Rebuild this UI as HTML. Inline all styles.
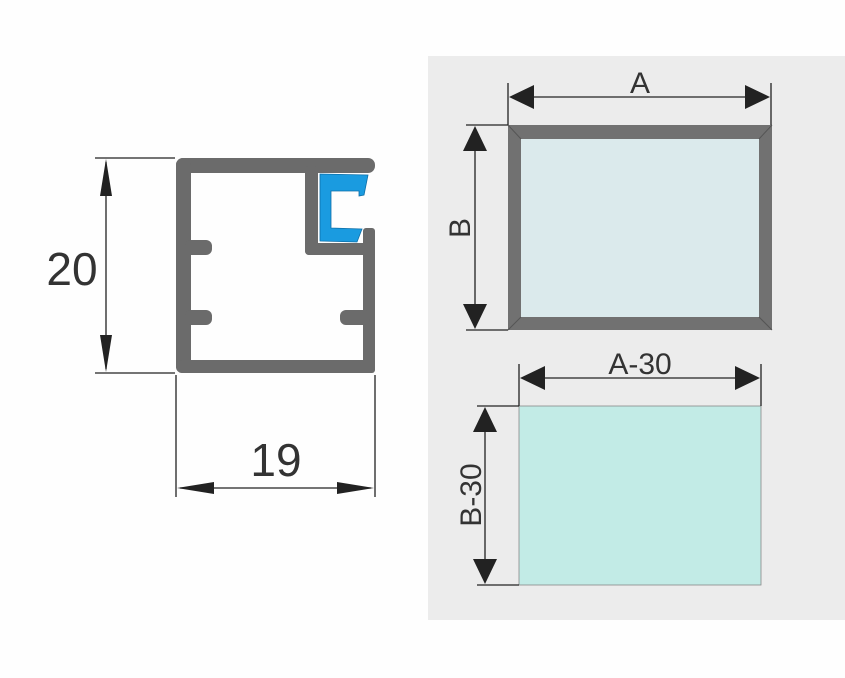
<!DOCTYPE html>
<html><head><style>
html,body{margin:0;padding:0;background:#fff;}
svg{display:block;}
text{font-family:"Liberation Sans",sans-serif;fill:#333;}
</style></head><body>
<svg width="845" height="678" viewBox="0 0 845 678" xmlns="http://www.w3.org/2000/svg">
<rect width="845" height="678" fill="#fefefe"/>
<rect x="428" y="56" width="417" height="564" fill="#ececec"/>

<g fill="#6b6b6b">
<rect x="176" y="158" width="199" height="15" rx="7"/>
<rect x="176" y="158" width="15" height="215" rx="7"/>
<rect x="176" y="360" width="199" height="13" rx="6"/>
<rect x="363" y="228" width="12" height="145" rx="3"/>
<rect x="305" y="166" width="13" height="89" rx="4"/>
<rect x="305" y="243" width="70" height="12" rx="4"/>
<rect x="185" y="240" width="27" height="15" rx="6"/>
<rect x="185" y="310" width="27" height="15" rx="6"/>
<rect x="340" y="310" width="30" height="15" rx="6"/>
</g>
<path d="M320 174 L368 175 L364 195 L359 196 L359 191 L331 191 L331 228 L362 229 L357 242 L320 241 Z" fill="#1a9be0" stroke="#0d6fa8" stroke-width="0.8"/>

<g stroke="#222" stroke-width="1.3" fill="none">
<line x1="95" y1="158" x2="175" y2="158"/>
<line x1="95" y1="373" x2="175" y2="373"/>
<line x1="106" y1="162" x2="106" y2="369"/>
<line x1="176" y1="375" x2="176" y2="497"/>
<line x1="375" y1="375" x2="375" y2="497"/>
<line x1="180" y1="488" x2="371" y2="488"/>
</g>
<g fill="#222">
<polygon points="106,159 100,196 112,196"/>
<polygon points="106,372 100,335 112,335"/>
<polygon points="177,488 214,482 214,494"/>
<polygon points="374,488 337,482 337,494"/>
</g>
<text x="72" y="285" font-size="46" text-anchor="middle">20</text>
<text x="276" y="476" font-size="46" text-anchor="middle">19</text>

<rect x="508" y="125" width="264" height="205" fill="#717171"/>
<rect x="521" y="139" width="238" height="178" fill="#dbeaec"/>
<g stroke="#555" stroke-width="1"><line x1="508" y1="125" x2="521" y2="139"/><line x1="772" y1="125" x2="759" y2="139"/><line x1="508" y1="330" x2="521" y2="317"/><line x1="772" y1="330" x2="759" y2="317"/></g>
<g stroke="#222" stroke-width="1.3">
<line x1="508" y1="83" x2="508" y2="125"/>
<line x1="771" y1="83" x2="771" y2="125"/>
<line x1="512" y1="97" x2="767" y2="97"/>
<line x1="466" y1="125" x2="508" y2="125"/>
<line x1="466" y1="330" x2="508" y2="330"/>
<line x1="475" y1="130" x2="475" y2="325"/>
</g>
<g fill="#222">
<polygon points="509,97 534,85 534,109"/>
<polygon points="770,97 745,85 745,109"/>
<polygon points="475,126 463,151 487,151"/>
<polygon points="475,329 463,304 487,304"/>
</g>
<text x="640" y="93" font-size="30" text-anchor="middle">A</text>
<text transform="translate(470,228) rotate(-90)" font-size="30" text-anchor="middle">B</text>

<rect x="519" y="406" width="242" height="179" fill="#c2ebe6" stroke="#888" stroke-width="0.8"/>
<g stroke="#222" stroke-width="1.3">
<line x1="519" y1="364" x2="519" y2="406"/>
<line x1="761" y1="364" x2="761" y2="406"/>
<line x1="523" y1="378" x2="757" y2="378"/>
<line x1="477" y1="406" x2="519" y2="406"/>
<line x1="477" y1="585" x2="519" y2="585"/>
<line x1="485" y1="410" x2="485" y2="580"/>
</g>
<g fill="#222">
<polygon points="520,378 545,366 545,390"/>
<polygon points="760,378 735,366 735,390"/>
<polygon points="485,407 473,432 497,432"/>
<polygon points="485,584 473,559 497,559"/>
</g>
<text x="640" y="374" font-size="30" text-anchor="middle">A-30</text>
<text transform="translate(481,495) rotate(-90)" font-size="30" text-anchor="middle">B-30</text>
</svg>
</body></html>
